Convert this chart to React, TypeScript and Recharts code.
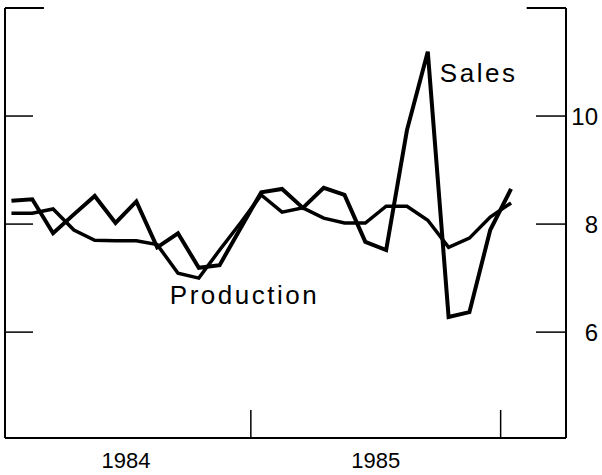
import { LineChart, Line, XAxis, YAxis, ReferenceLine, ReferenceDot } from "recharts";

// monthly points, Jan 1984 .. Jan 1986
const months = [0, 1, 2, 3, 4, 5, 6, 7, 8, 9, 10, 11, 12, 13, 14, 15, 16, 17, 18, 19, 20, 21, 22, 23, 24];
const sales = [8.43, 8.46, 7.83, 8.18, 8.52, 8.02, 8.42, 7.57, 7.83, 7.19, 7.24, 7.92, 8.59, 8.65, 8.3, 8.67, 8.54, 7.67, 7.52, 9.74, 11.19, 6.28, 6.37, 7.89, 8.65];
const production = [8.2, 8.2, 8.28, 7.89, 7.7, 7.69, 7.69, 7.62, 7.09, 7.0, 7.52, 8.02, 8.54, 8.22, 8.3, 8.11, 8.02, 8.02, 8.33, 8.33, 8.07, 7.57, 7.74, 8.13, 8.39];

const yearBreaks = [11.5, 23.5];
const yearLabels = ["1984", "1985"];
const yearCenters = [5.5, 17.5];
const valueTicks = [6, 8, 10];

const data = months.map((m, i) => ({ m, sales: sales[i], production: production[i] }));

const font = "'Liberation Sans', Arial, sans-serif";
const xDomain: [number, number] = [-0.31, 26.64];
const yDomain: [number, number] = [4.04, 12];

function YearTick(props: any) {
  const { x, y, payload } = props;
  const v = payload.value;
  if (yearBreaks.includes(v)) {
    return <line x1={x} x2={x} y1={y - 28} y2={y} stroke="#000" strokeWidth={1.5} />;
  }
  const label = yearLabels[yearCenters.indexOf(v)];
  return (
    <text x={x} y={y + 30} textAnchor="middle" fontSize={22} fontFamily={font} fill="#000">
      {label}
    </text>
  );
}

function LeftTick(props: any) {
  const { x, y } = props;
  return <line x1={x} x2={x + 28} y1={y} y2={y} stroke="#000" strokeWidth={1.5} />;
}

function RightTick(props: any) {
  const { x, y, payload } = props;
  return (
    <g>
      <line x1={x - 30} x2={x} y1={y} y2={y} stroke="#000" strokeWidth={1.5} />
      <text x={598} y={y} dy="0.36em" textAnchor="end" fontSize={24} fontFamily={font} fill="#000">
        {payload.value}
      </text>
    </g>
  );
}

const seriesLabel = (text: string) => (p: any) => (
  <text x={p.cx} y={p.cy} fontSize={26} letterSpacing={2.5} fontFamily={font} fill="#000">
    {text}
  </text>
);

export default function App() {
  return (
    <div style={{ position: "absolute", left: 0, top: 0, background: "#fff", fontFamily: font }}>
      <LineChart width={602} height={475} data={data} margin={{ top: 8, right: 0, bottom: 0, left: 0 }}>
        <XAxis
          dataKey="m"
          type="number"
          domain={xDomain}
          allowDataOverflow
          ticks={[...yearCenters, ...yearBreaks].sort((a, b) => a - b)}
          interval={0}
          tick={<YearTick />}
          tickLine={false}
          tickSize={0}
          tickMargin={0}
          height={37}
          axisLine={{ stroke: "#000", strokeWidth: 2 }}
        />
        <YAxis
          yAxisId="l"
          orientation="left"
          domain={yDomain}
          allowDataOverflow
          ticks={valueTicks}
          interval={0}
          width={5}
          tick={<LeftTick />}
          tickLine={false}
          tickSize={0}
          tickMargin={0}
          axisLine={{ stroke: "#000", strokeWidth: 2 }}
        />
        <YAxis
          yAxisId="r"
          orientation="right"
          domain={yDomain}
          allowDataOverflow
          ticks={valueTicks}
          interval={0}
          width={36}
          tick={<RightTick />}
          tickLine={false}
          tickSize={0}
          tickMargin={0}
          axisLine={{ stroke: "#000", strokeWidth: 2 }}
        />
        <ReferenceLine
          yAxisId="r"
          segment={[{ x: xDomain[0], y: 12 }, { x: 1.56, y: 12 }]}
          stroke="#000"
          strokeWidth={2}
          ifOverflow="visible"
        />
        <ReferenceLine
          yAxisId="r"
          segment={[{ x: 24.75, y: 12 }, { x: xDomain[1], y: 12 }]}
          stroke="#000"
          strokeWidth={2}
          ifOverflow="visible"
        />
        <Line yAxisId="r" type="linear" dataKey="production" stroke="#000" strokeWidth={3.5} dot={false} isAnimationActive={false} />
        <Line yAxisId="r" type="linear" dataKey="sales" stroke="#000" strokeWidth={4} dot={false} isAnimationActive={false} />
        <ReferenceDot yAxisId="r" x={20.58} y={10.63} r={0} ifOverflow="visible" shape={seriesLabel("Sales")} />
        <ReferenceDot yAxisId="r" x={7.61} y={6.52} r={0} ifOverflow="visible" shape={seriesLabel("Production")} />
      </LineChart>
    </div>
  );
}
